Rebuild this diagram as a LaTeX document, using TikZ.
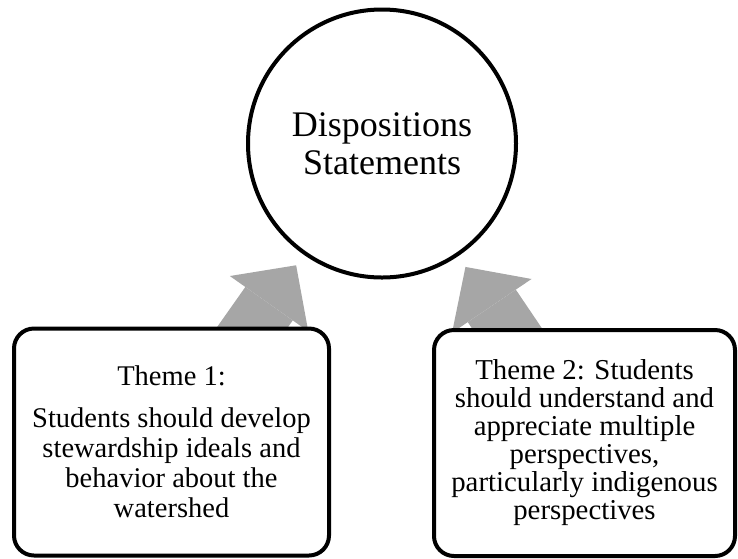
\documentclass[tikz,border=0pt]{standalone}
\usepackage{fontspec}
\setmainfont{Liberation Serif}
\usetikzlibrary{arrows.meta, backgrounds}
\definecolor{arrowGray}{RGB}{166, 166, 166}

\begin{document}
\begin{tikzpicture}[x=1pt, y=-1pt,
    themebox/.style={draw, line width=4pt, rounded corners=20pt, fill=white,
      align=center},
    bigarrow/.style={arrowGray, line width=58pt, shorten >=13pt,
      -{Triangle[width=96pt, length=47pt, line width=0pt]}}]
        \useasboundingbox (0,0) rectangle (738,558);

        % Center circle
        \node[draw, circle, line width=4pt, minimum size=268pt, align=center,
          font=\fontsize{36}{38}\selectfont] (disp) at (382,143.5)
          {Dispositions\\Statements};

        % Theme boxes
        \node[themebox, minimum width=315pt, minimum height=227pt,
          font=\fontsize{28.5}{30}\selectfont] (theme1) at (171.5,442)
          {Theme 1:\\[12pt]Students should develop\\stewardship ideals and\\behavior about the\\watershed};
        \node[themebox, minimum width=301pt, minimum height=226pt,
          font=\fontsize{28.8}{28}\selectfont] (theme2) at (584.5,443)
          {\rule{0pt}{20pt}Theme 2: Students\\should understand and\\appreciate multiple\\perspectives,\\particularly indigenous\\perspectives};

        % Block arrows behind the boxes
        \begin{pgfonlayer}{background}
          \draw[bigarrow] (theme1.center) -- (disp);
          \draw[bigarrow] (theme2.center) -- (disp);
        \end{pgfonlayer}
      \end{tikzpicture}
\end{document}
